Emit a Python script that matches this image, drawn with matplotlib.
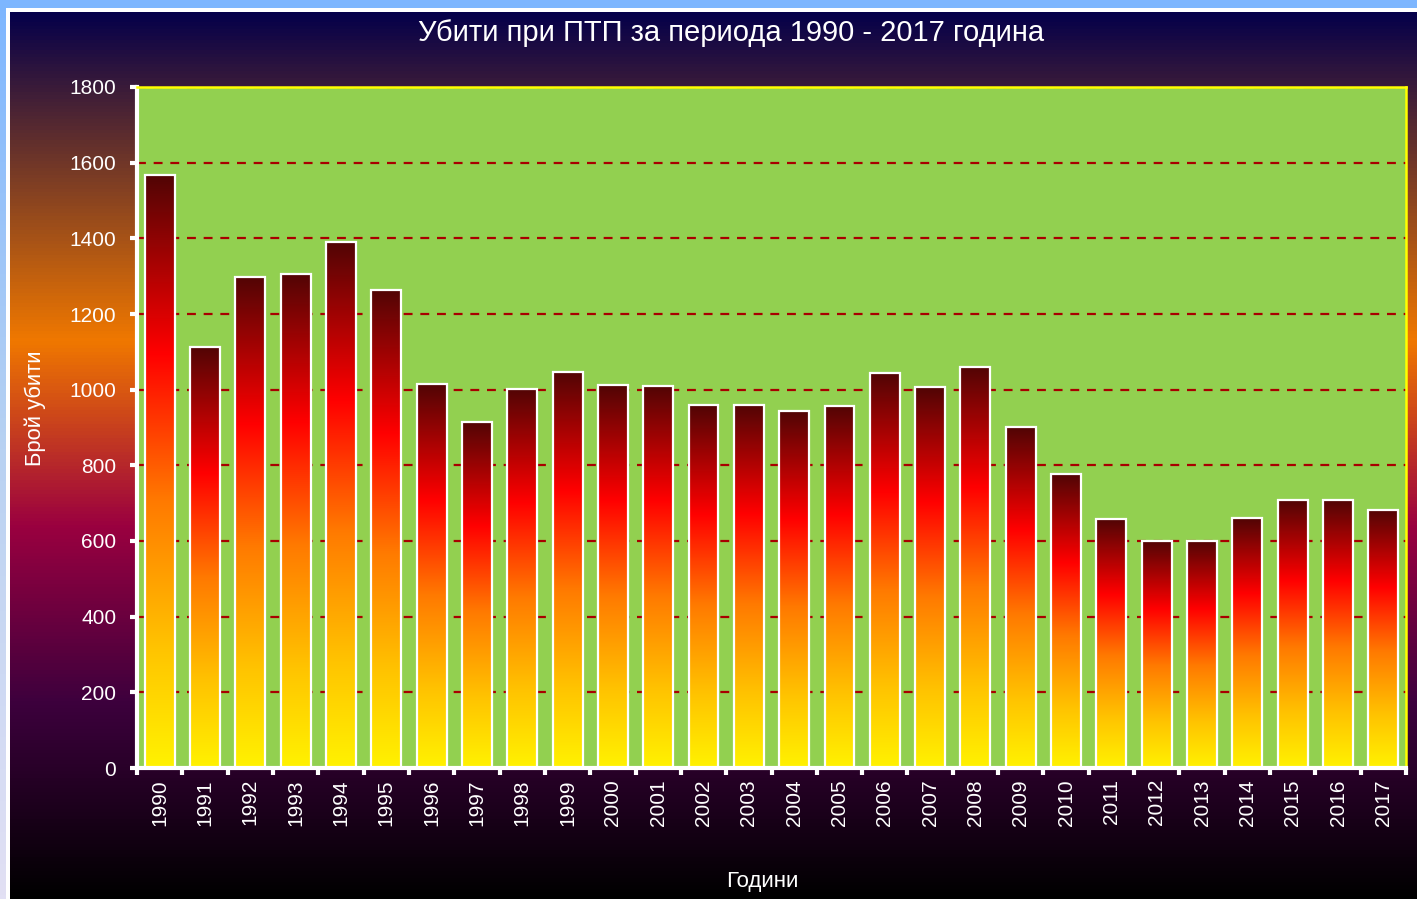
import numpy as np
import matplotlib
matplotlib.use("Agg")
import matplotlib.pyplot as plt
from matplotlib.colors import LinearSegmentedColormap
from matplotlib.patches import Rectangle

plt.rcParams['font.family'] = ['Liberation Sans', 'DejaVu Sans']

years = [str(y) for y in range(1990, 2018)]
killed = [1567, 1114, 1299, 1307, 1390, 1264, 1014, 915, 1003, 1047,
          1012, 1011, 959, 960, 943, 957, 1043, 1006, 1061, 901,
          776, 657, 601, 601, 660, 708, 708, 682]
yticks = [0, 200, 400, 600, 800, 1000, 1200, 1400, 1600, 1800]

title = "Убити при ПТП за периода 1990 - 2017 година"
ylabel = "Брой убити"
xlabel = "Години"

W, H = 1417, 899
fig = plt.figure(figsize=(W / 100, H / 100), dpi=100)

# background: blue frame, white line, dark gradient panel
bg = fig.add_axes([0, 0, 1, 1])
bg.axis('off')
blue = LinearSegmentedColormap.from_list('blue', ['#7db6ff', '#b8d2f2', '#e2e0f4'])
bg.imshow(np.linspace(0, 1, 256).reshape(-1, 1), cmap=blue, aspect='auto',
          extent=[0, W, H, 0], zorder=0)
bg.add_patch(Rectangle((6, 8), W, H, facecolor='white', edgecolor='none', zorder=1))
panel = LinearSegmentedColormap.from_list('panel', [
    (0.0, '#05004a'), (0.37, '#f07800'), (0.58, '#9a0040'),
    (0.78, '#3d003d'), (1.0, '#000000')])
bg.imshow(np.linspace(0, 1, 256).reshape(-1, 1), cmap=panel, aspect='auto',
          extent=[10, W, H, 12], zorder=2)
bg.set_xlim(0, W)
bg.set_ylim(H, 0)

ax = fig.add_axes([137 / W, 1 - 768 / H, (1406 - 137) / W, (768 - 87) / H])
ax.set_facecolor('#92d050')

barcmap = LinearSegmentedColormap.from_list('bar', [
    (0.0, '#fff200'), (0.2, '#ffc400'), (0.45, '#ff7a00'),
    (0.7, '#ff0000'), (1.0, '#520505')])
grad = np.linspace(0, 1, 256).reshape(-1, 1)

x = np.arange(len(years))
bw = 0.66
bars = ax.bar(x, killed, width=bw, facecolor='none', edgecolor='white',
              linewidth=1.6, zorder=3)
for b, v in zip(bars, killed):
    im = ax.imshow(grad, cmap=barcmap, origin='lower', aspect='auto',
                   extent=[b.get_x(), b.get_x() + bw, 0, v], zorder=2)
    im.set_clip_path(b)

ax.set_xlim(-0.5, len(years) - 0.5)
ax.set_ylim(0, 1800)
ax.set_yticks(yticks)
ax.yaxis.grid(True, color='#a80000', linestyle=(0, (4, 3.5)), linewidth=1.6, zorder=1)
ax.set_axisbelow(True)

ax.set_xticks(x)
ax.set_xticklabels(years, rotation=90)
ax.set_xticks(np.arange(-0.5, len(years)), minor=True)
ax.tick_params(axis='x', which='major', length=0, pad=8, labelcolor='white', labelsize=15)
ax.tick_params(axis='x', which='minor', length=5, width=3, color='white', direction='out')
ax.tick_params(axis='y', length=5, width=3, color='white', direction='out', pad=10,
               labelcolor='white', labelsize=15)

for s in ['left', 'bottom']:
    ax.spines[s].set_color('white')
    ax.spines[s].set_linewidth(3)
for s in ['top', 'right']:
    ax.spines[s].set_color('#ffff00')
    ax.spines[s].set_linewidth(1.8)

fig.text(731 / W, 1 - 33 / H, title, color='white', fontsize=21, ha='center', va='center')
fig.text(35 / W, 1 - 408 / H, ylabel, color='white', fontsize=15.8, rotation=90,
         ha='center', va='center')
fig.text(762 / W, 1 - 882 / H, xlabel, color='white', fontsize=16, ha='center', va='center')

fig.savefig('out.png', dpi=100)
